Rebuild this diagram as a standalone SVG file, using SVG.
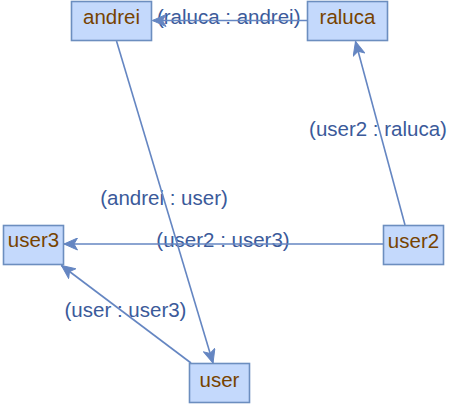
<svg xmlns="http://www.w3.org/2000/svg" width="458" height="405" viewBox="0 0 458 405">
  <style>
    .node rect { fill: #c4d9fc; stroke: #6c8ebf; stroke-width: 1.6; }
    .node text { font-family: "Liberation Sans", Arial, sans-serif; font-size: 20.5px; fill: #774300; text-anchor: middle; }
    .edge { stroke: #6586c2; stroke-width: 1.6; fill: none; marker-end: url(#arrow); }
    .lbl { font-family: "Liberation Sans", Arial, sans-serif; font-size: 20.5px; fill: #3b5a9a; text-anchor: middle; }
  </style>
  <defs>
    <marker id="arrow" markerUnits="userSpaceOnUse" markerWidth="15" markerHeight="13" refX="14" refY="6.5" orient="auto" viewBox="0 0 15 13">
      <path d="M0.5,0.5 L14,6.5 L0.5,12.5 L4,6.5 Z" fill="#6586c2" stroke="#6586c2" stroke-width="1"/>
    </marker>
  </defs>
  <g id="connectors">
    <text class="lbl" x="228.7" y="24">(raluca : andrei)</text>
    <text class="lbl" x="378" y="136">(user2 : raluca)</text>
    <text class="lbl" x="164" y="205">(andrei : user)</text>
    <text class="lbl" x="223" y="247">(user2 : user3)</text>
    <text class="lbl" x="125.5" y="317">(user : user3)</text>
    <line class="edge" x1="307" y1="20.5" x2="152.5" y2="20.5"/>
    <line class="edge" x1="116.5" y1="41" x2="213" y2="363"/>
    <line class="edge" x1="405" y1="225" x2="355.5" y2="41.5"/>
    <line class="edge" x1="383" y1="244" x2="64" y2="244"/>
    <line class="edge" x1="191" y1="363" x2="61.5" y2="265.5"/>
  </g>
  <g id="andrei" class="node">
    <rect x="71.5" y="1.5" width="80" height="39"/>
    <text x="111.5" y="24">andrei</text>
  </g>
  <g id="raluca" class="node">
    <rect x="307.5" y="1.5" width="80" height="39"/>
    <text x="347.5" y="24">raluca</text>
  </g>
  <g id="user3" class="node">
    <rect x="3.5" y="225.5" width="60" height="39"/>
    <text x="33.5" y="247">user3</text>
  </g>
  <g id="user2" class="node">
    <rect x="383.5" y="225.5" width="60" height="39"/>
    <text x="413.5" y="247.5">user2</text>
  </g>
  <g id="user" class="node">
    <rect x="189.5" y="363.5" width="60" height="39"/>
    <text x="219.5" y="386.5">user</text>
  </g>
</svg>
